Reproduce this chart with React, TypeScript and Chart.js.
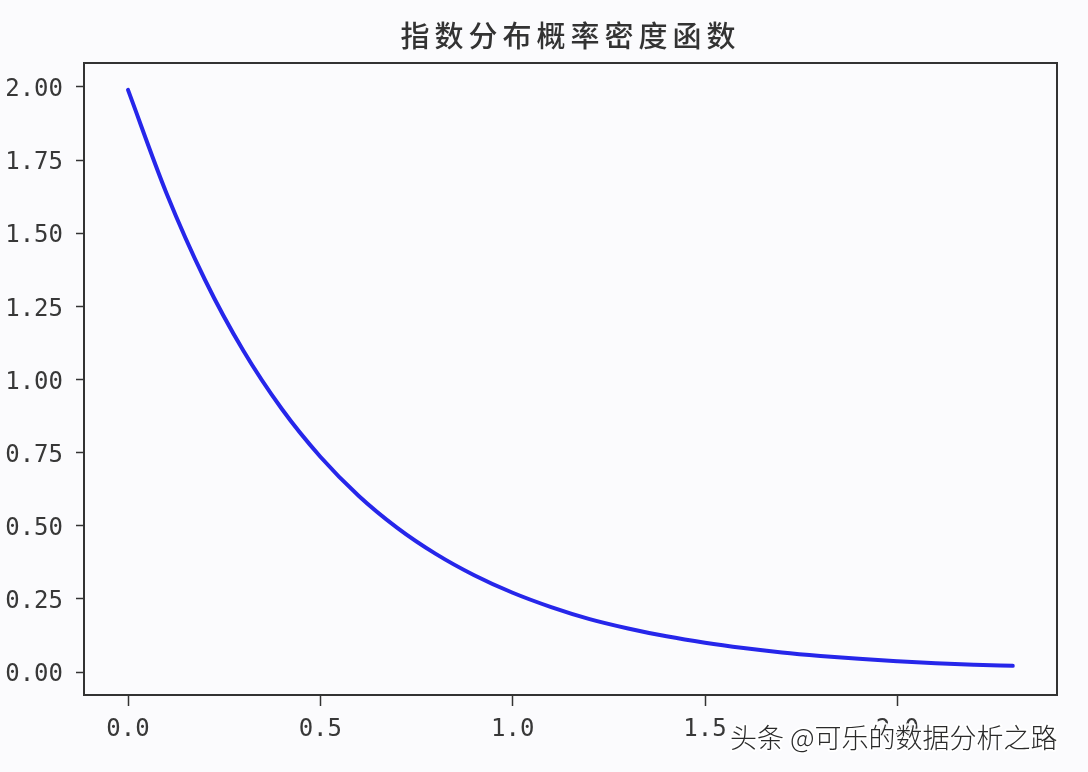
import React, { useEffect, useRef } from "react";
import { Chart, registerables } from "chart.js";

Chart.register(...registerables);

const titleText = "指数分布概率密度函数";
const watermarkText = "头条 @可乐的数据分析之路";

const xValues = [0.0, 0.1, 0.2, 0.3, 0.4, 0.5, 0.6, 0.7, 0.8, 0.9, 1.0, 1.1, 1.2, 1.3, 1.4, 1.5, 1.6, 1.7, 1.8, 1.9, 2.0, 2.1, 2.2, 2.3];
const yValues = [1.99, 1.637, 1.341, 1.098, 0.899, 0.736, 0.602, 0.493, 0.404, 0.331, 0.271, 0.222, 0.181, 0.149, 0.122, 0.100, 0.082, 0.067, 0.055, 0.045, 0.037, 0.030, 0.025, 0.021];

const xTicks = [0.0, 0.5, 1.0, 1.5, 2.0];
const yTicks = [0.0, 0.25, 0.5, 0.75, 1.0, 1.25, 1.5, 1.75, 2.0];

const BG = "#fbfbfd";
const INK = "#333333";

const decorPlugin = {
  id: "decor",
  beforeDraw(chart: any) {
    const { ctx, width, height } = chart;
    ctx.save();
    ctx.fillStyle = BG;
    ctx.fillRect(0, 0, width, height);
    ctx.restore();
  },
  afterDraw(chart: any) {
    const { ctx, chartArea } = chart;
    const { left, right, top, bottom } = chartArea;
    ctx.save();
    // frame
    ctx.strokeStyle = INK;
    ctx.lineWidth = 2;
    ctx.strokeRect(left, top, right - left, bottom - top);
    // title
    ctx.fillStyle = "#333333";
    ctx.font = '500 29px "Noto Sans CJK SC"';
    (ctx as any).letterSpacing = "5px";
    ctx.textAlign = "center";
    ctx.textBaseline = "middle";
    ctx.fillText(titleText, (left + right) / 2, 36);
    (ctx as any).letterSpacing = "0px";
    // watermark
    ctx.font = '300 27px "Noto Sans CJK SC"';
    ctx.textAlign = "left";
    ctx.textBaseline = "middle";
    ctx.lineJoin = "round";
    ctx.strokeStyle = "rgba(255,255,255,0.9)";
    ctx.lineWidth = 4;
    ctx.strokeText(watermarkText, 730, 738);
    ctx.fillStyle = "#2a2a2a";
    ctx.fillText(watermarkText, 730, 738);
    ctx.restore();
  },
};

export default function App() {
  const canvasRef = useRef<HTMLCanvasElement | null>(null);

  useEffect(() => {
    document.body.style.margin = "0";
    const canvas = canvasRef.current;
    if (!canvas) return;
    const chart = new Chart(canvas, {
      type: "line",
      data: {
        datasets: [
          {
            data: xValues.map((x, i) => ({ x, y: yValues[i] })),
            borderColor: "#2626ea",
            borderWidth: 4,
            pointRadius: 0,
            cubicInterpolationMode: "monotone",
            borderCapStyle: "round",
            borderJoinStyle: "round",
            fill: false,
          },
        ],
      },
      options: {
        animation: false,
        responsive: true,
        maintainAspectRatio: false,
        layout: { padding: { top: 63, right: 31, bottom: 0, left: 0 } },
        plugins: {
          legend: { display: false },
          title: { display: false },
          tooltip: { enabled: false },
        },
        scales: {
          x: {
            type: "linear",
            min: -0.1144,
            max: 2.415,
            afterFit: (scale: any) => {
              scale.height = 77;
            },
            afterBuildTicks: (scale: any) => {
              scale.ticks = xTicks.map((v) => ({ value: v }));
            },
            ticks: {
              callback: (v: any) => Number(v).toFixed(1),
              font: { family: '"DejaVu Sans Mono"', size: 24 },
              color: "#383838",
              padding: 9,
              maxRotation: 0,
              autoSkip: false,
            },
            grid: {
              drawOnChartArea: false,
              drawTicks: true,
              tickLength: 11,
              tickWidth: 1.5,
              tickColor: INK,
            },
            border: { display: false },
          },
          y: {
            type: "linear",
            min: -0.0786,
            max: 2.082,
            afterFit: (scale: any) => {
              scale.width = 84;
            },
            afterBuildTicks: (scale: any) => {
              scale.ticks = yTicks.map((v) => ({ value: v }));
            },
            ticks: {
              callback: (v: any) => Number(v).toFixed(2),
              font: { family: '"DejaVu Sans Mono"', size: 24 },
              color: "#383838",
              padding: 13,
              labelOffset: 3,
              autoSkip: false,
            },
            grid: {
              drawOnChartArea: false,
              drawTicks: true,
              tickLength: 8,
              tickWidth: 1.5,
              tickColor: INK,
            },
            border: { display: false },
          },
        },
      },
      plugins: [decorPlugin],
    } as any);
    return () => chart.destroy();
  }, []);

  return (
    <div
      style={{
        position: "fixed",
        left: 0,
        top: 0,
        width: 1088,
        height: 772,
        background: BG,
      }}
    >
      <canvas ref={canvasRef} />
    </div>
  );
}
